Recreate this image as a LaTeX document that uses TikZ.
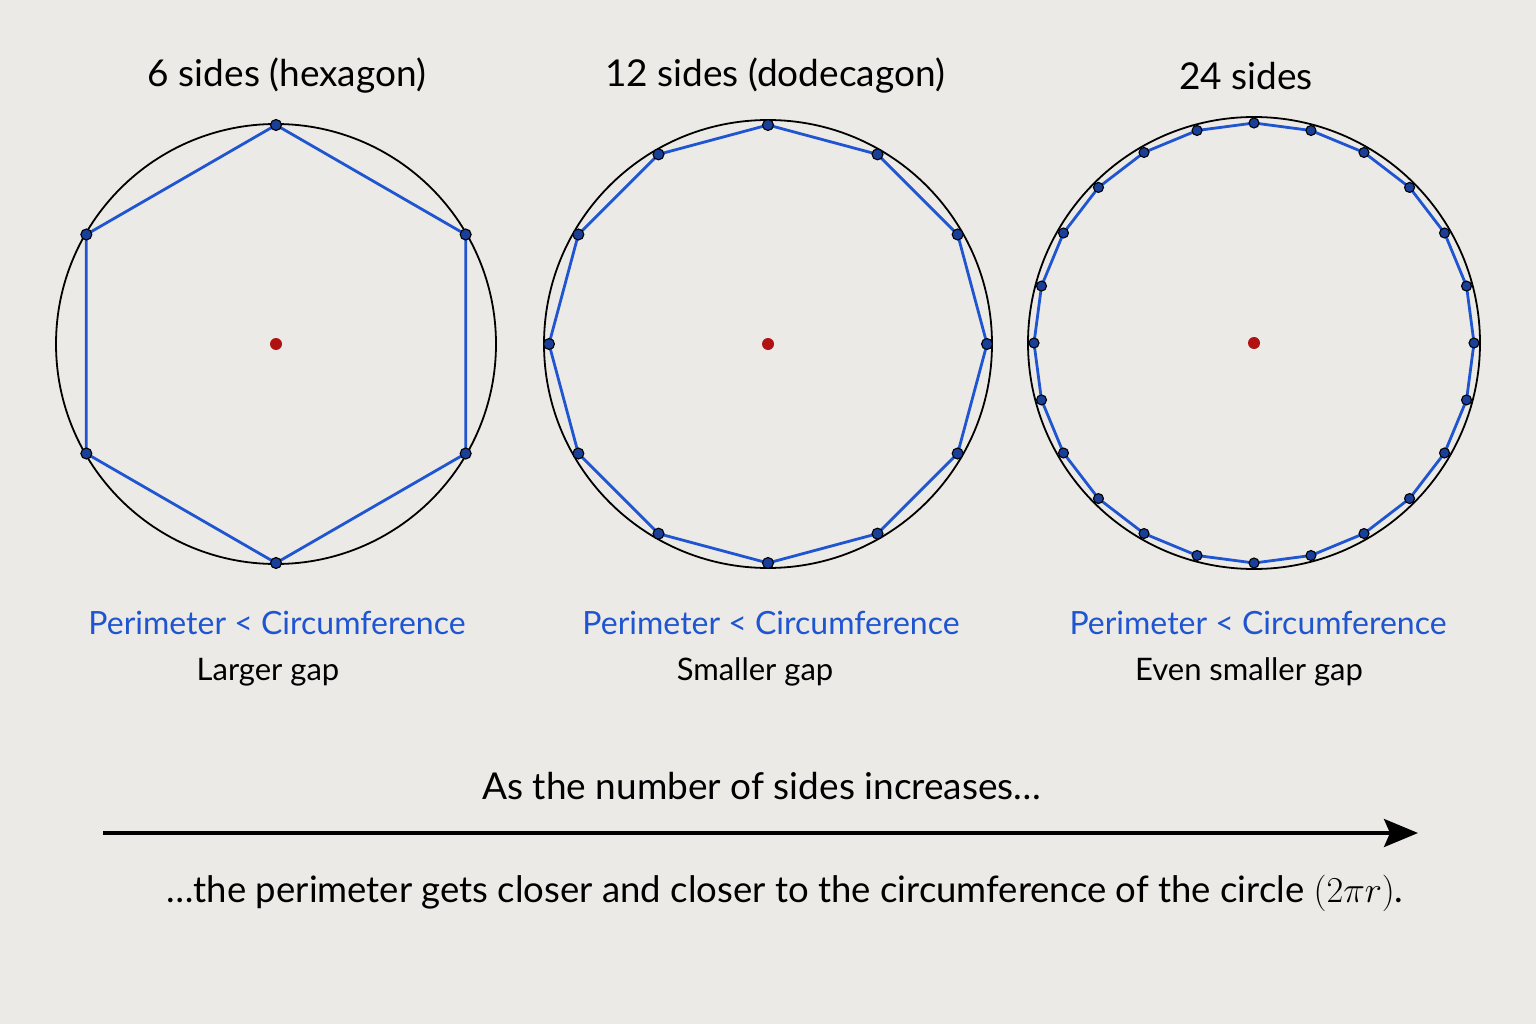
\RequirePackage{fix-cm}
\documentclass[tikz,border=0pt]{standalone}
\usepackage{fontspec}
\setmainfont{Lato}
\usetikzlibrary{arrows.meta,calc}
\definecolor{bg}{HTML}{ECEAE6}
\definecolor{polyblue}{HTML}{1F55D0}
\definecolor{dotblue}{HTML}{1A3F98}
\definecolor{centred}{HTML}{B01212}
\tikzset{
  circ/.style={draw=black, line width=1.8pt},
  poly/.style={draw=polyblue, line width=2.8pt, line join=round},
  vdot/.style={circle, fill=dotblue, draw=black, line width=1.1pt, inner sep=0pt, minimum size=11pt},
  cdot/.style={circle, fill=centred, inner sep=0pt, minimum size=12pt},
  title/.style={font=\fontsize{37}{42}\selectfont, text=black},
  perim/.style={font=\fontsize{32}{36}\selectfont, text=polyblue},
  gap/.style={font=\fontsize{31}{35}\selectfont, text=black},
  big/.style={font=\fontsize{37}{42}\selectfont, text=black},
  bottom/.style={font=\fontsize{36.5}{41}\selectfont, text=black}
}
\begin{document}
\begin{tikzpicture}[x=1pt,y=-1pt]
\fill[bg] (0,0) rectangle (1536,1024);
\useasboundingbox (0,0) rectangle (1536,1024);

% circle 1
\coordinate (c1) at (276,344);
\draw[circ] (c1) circle[radius=220];
\draw[poly] ($(c1)+(90:219)$)
  \foreach \k in {1,...,5} { -- ($(c1)+(90+60*\k:219)$) } -- cycle;
\foreach \k in {0,...,5} { \node[vdot] (a\k) at ($(c1)+(90+60*\k:219)$) {}; }
\node[cdot] (m1) at (c1) {};

% circle 2
\coordinate (c2) at (768,344);
\draw[circ] (c2) circle[radius=224];
\draw[poly] ($(c2)+(90:219)$)
  \foreach \k in {1,...,11} { -- ($(c2)+(90+30*\k:219)$) } -- cycle;
\foreach \k in {0,...,11} { \node[vdot] (b\k) at ($(c2)+(90+30*\k:219)$) {}; }
\node[cdot] (m2) at (c2) {};

% circle 3
\coordinate (c3) at (1254,343);
\draw[circ] (c3) circle[radius=226];
\draw[poly] ($(c3)+(90:220)$)
  \foreach \k in {1,...,23} { -- ($(c3)+(90+15*\k:220)$) } -- cycle;
\foreach \k in {0,...,23} { \node[vdot, minimum size=10pt] (d\k) at ($(c3)+(90+15*\k:220)$) {}; }
\node[cdot] (m3) at (c3) {};

% titles
\node[title] (t1) at (287,76) {6 sides (hexagon)};
\node[title] (t2) at (775,76) {12 sides (dodecagon)};
\node[title] (t3) at (1246,76) {24 sides};

% labels
\node[perim] (p1) at (277,623) {Perimeter < Circumference};
\node[perim] (p2) at (771,623) {Perimeter < Circumference};
\node[perim] (p3) at (1258,623) {Perimeter < Circumference};
\node[gap] (g1) at (268,672) {Larger gap};
\node[gap] (g2) at (755,672) {Smaller gap};
\node[gap] (g3) at (1249,672) {Even smaller gap};

% arrow
\node[big] (inc) at (762,786) {As the number of sides increases…};
\coordinate (as) at (103,833);
\coordinate (ae) at (1418,833);
\draw[line width=3.6pt, -{Stealth[length=34pt,width=28pt,inset=6pt]}] (as) -- (ae);
\node[bottom] (fin) at (785,893) {…the perimeter gets closer and closer to the circumference of the circle $(2\pi r)$.};
\end{tikzpicture}
\end{document}
